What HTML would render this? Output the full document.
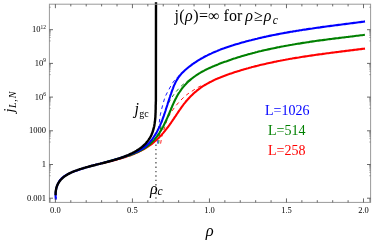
<!DOCTYPE html>
<html><head><meta charset="utf-8"><title>plot</title>
<style>
html,body{margin:0;padding:0;background:#fff;}
svg{display:block;will-change:transform;opacity:0.999;font-family:"Liberation Serif",serif;}
</style></head><body>
<svg width="374" height="241" viewBox="0 0 374 241">
<rect width="374" height="241" fill="#fff"/>
<g fill="none" stroke-linecap="butt" stroke-linejoin="round">
<path d="M157.70 143.60 C157.80 141.67 157.98 135.93 158.30 132.00 C158.62 128.07 159.18 123.23 159.60 120.00 C160.02 116.77 160.23 115.27 160.80 112.60 C161.37 109.93 162.27 106.63 163.00 104.00 C163.73 101.37 164.25 99.15 165.20 96.80 C166.15 94.45 167.40 92.30 168.70 89.90 C170.00 87.50 171.53 84.52 173.00 82.40 C174.47 80.28 175.83 78.93 177.50 77.20 C179.17 75.47 182.08 72.87 183.00 72.00" stroke="#00f" stroke-width="0.9" stroke-dasharray="3.6 3.4"/>
<path d="M158.70 143.60 C158.83 142.17 159.12 137.93 159.50 135.00 C159.88 132.07 160.30 129.25 161.00 126.00 C161.70 122.75 162.70 118.80 163.70 115.50 C164.70 112.20 165.95 108.70 167.00 106.20 C168.05 103.70 169.15 102.03 170.00 100.50 C170.85 98.97 171.18 98.35 172.10 97.00 C173.02 95.65 174.00 94.20 175.50 92.40 C177.00 90.60 179.13 88.07 181.10 86.20 C183.07 84.33 185.32 82.65 187.30 81.20 C189.28 79.75 192.05 78.12 193.00 77.50" stroke="#008000" stroke-width="0.9" stroke-dasharray="3.6 3.4"/>
<path d="M160.60 143.60 C160.83 142.33 161.52 138.10 162.00 136.00 C162.48 133.90 162.92 132.85 163.50 131.00 C164.08 129.15 164.85 126.95 165.50 124.90 C166.15 122.85 166.45 120.80 167.40 118.70 C168.35 116.60 169.83 114.40 171.20 112.30 C172.57 110.20 173.97 108.15 175.60 106.10 C177.23 104.05 179.20 101.85 181.00 100.00 C182.80 98.15 184.63 96.43 186.40 95.00 C188.17 93.57 189.62 92.70 191.60 91.40 C193.58 90.10 196.23 88.33 198.30 87.20 C200.37 86.07 203.05 85.03 204.00 84.60" stroke="#f00" stroke-width="0.9" stroke-dasharray="3.6 3.4"/>
<path d="M102.4 163.3 L103.7 162.9 L105.0 162.6 L106.3 162.3 L107.6 161.9 L108.9 161.6 L110.2 161.3 L111.6 160.9 L112.9 160.6 L114.2 160.2 L115.5 159.9 L116.8 159.5 L118.2 159.1 L119.5 158.7 L120.8 158.4 L122.1 158.0 L123.5 157.6 L124.8 157.2 L126.1 156.7 L127.4 156.3 L128.7 155.8 L130.0 155.4 L131.3 154.9 L132.5 154.4 L133.8 153.9 L135.1 153.4 L136.3 152.9 L137.6 152.3 L138.8 151.7 L140.0 151.1 L141.2 150.5 L142.4 149.9 L143.6 149.3 L144.8 148.6 L145.9 147.9 L147.1 147.2 L148.2 146.4 L149.3 145.7 L150.4 144.9 L151.5 144.1 L152.6 143.3 L153.6 142.4 L154.6 141.5 L155.7 140.7 L156.7 139.7 L157.7 138.8 L158.6 137.9 L159.6 136.9 L160.5 135.9 L161.5 134.9 L162.4 133.9 L163.3 132.9 L164.1 131.9 L165.0 130.8 L165.9 129.7 L166.7 128.7 L167.5 127.6 L168.4 126.5 L169.2 125.4 L170.0 124.2 L170.8 123.1 L171.5 122.0 L172.3 120.9 L173.1 119.7 L173.9 118.6 L174.6 117.4 L175.4 116.3 L176.2 115.1 L176.9 114.0 L177.7 112.9 L178.5 111.7 L179.2 110.6 L180.0 109.5 L180.8 108.3 L181.6 107.2 L182.4 106.1 L183.2 105.0 L184.0 103.9 L184.9 102.9 L185.7 101.8 L186.6 100.8 L187.5 99.7 L188.4 98.7 L189.3 97.7 L190.2 96.8 L191.2 95.8 L192.1 94.9 L193.1 93.9 L194.1 93.0 L195.1 92.1 L196.2 91.3 L197.2 90.4 L198.3 89.6 L199.3 88.8 L200.4 88.0 L201.5 87.2 L202.6 86.4 L203.8 85.7 L204.9 85.0 L206.1 84.3 L207.3 83.6 L208.5 83.0 L209.6 82.3 L210.9 81.7 L212.1 81.1 L213.3 80.5 L214.5 79.9 L215.8 79.3 L217.0 78.8 L218.3 78.2 L219.6 77.7 L220.8 77.2 L222.1 76.7 L223.4 76.2 L224.7 75.7 L226.0 75.2 L227.3 74.7 L228.6 74.3 L229.9 73.8 L231.2 73.4 L232.5 73.0 L233.8 72.5 L235.1 72.1 L236.4 71.7 L237.7 71.3 L239.0 70.9 L240.3 70.5 L241.6 70.1 L242.9 69.7 L244.2 69.3 L245.6 68.9 L246.9 68.5 L248.2 68.2 L249.5 67.8 L250.8 67.5 L252.1 67.1 L253.4 66.8 L254.7 66.4 L256.1 66.1 L257.4 65.8 L258.7 65.4 L260.0 65.1 L261.3 64.8 L262.7 64.5 L264.0 64.2 L265.3 63.9 L266.6 63.6 L267.9 63.3 L269.3 63.0 L270.6 62.7 L271.9 62.4 L273.3 62.1 L274.6 61.8 L275.9 61.6 L277.3 61.3 L278.6 61.0 L279.9 60.8 L281.3 60.5 L282.6 60.3 L283.9 60.0 L285.3 59.8 L286.6 59.5 L287.9 59.3 L289.3 59.0 L290.6 58.8 L292.0 58.6 L293.3 58.3 L294.7 58.1 L296.0 57.9 L297.4 57.7 L298.7 57.5 L300.1 57.2 L301.4 57.0 L302.8 56.8 L304.1 56.6 L305.5 56.4 L306.8 56.2 L308.2 56.0 L309.5 55.8 L310.9 55.6 L312.2 55.4 L313.6 55.2 L314.9 55.0 L316.3 54.8 L317.6 54.6 L319.0 54.4 L320.3 54.2 L321.7 54.1 L323.0 53.9 L324.4 53.7 L325.8 53.5 L327.1 53.3 L328.5 53.2 L329.8 53.0 L331.2 52.8 L332.5 52.6 L333.9 52.5 L335.2 52.3 L336.6 52.1 L337.9 52.0 L339.3 51.8 L340.7 51.6 L342.0 51.4 L343.4 51.3 L344.7 51.1 L346.1 50.9 L347.4 50.8 L348.8 50.6 L350.1 50.4 L351.5 50.3 L352.8 50.1 L354.2 49.9 L355.5 49.8 L356.9 49.6 L358.2 49.4 L359.6 49.3 L360.9 49.1 L362.3 48.9 L363.6 48.8 L365.0 48.6" stroke="#f00" stroke-width="2.1"/>
<path d="M102.5 163.3 L103.8 162.8 L105.1 162.4 L106.4 162.0 L107.7 161.6 L109.1 161.2 L110.4 160.8 L111.8 160.4 L113.1 160.1 L114.5 159.7 L115.9 159.3 L117.3 158.9 L118.6 158.6 L120.0 158.2 L121.4 157.8 L122.8 157.4 L124.2 157.0 L125.6 156.5 L126.9 156.1 L128.3 155.7 L129.7 155.2 L131.0 154.7 L132.4 154.2 L133.7 153.7 L135.0 153.1 L136.4 152.6 L137.7 152.0 L138.9 151.4 L140.2 150.7 L141.5 150.1 L142.7 149.4 L143.9 148.6 L145.1 147.9 L146.2 147.1 L147.3 146.2 L148.4 145.4 L149.5 144.5 L150.5 143.6 L151.5 142.6 L152.5 141.6 L153.5 140.6 L154.4 139.6 L155.3 138.5 L156.2 137.4 L157.0 136.3 L157.9 135.1 L158.7 134.0 L159.5 132.8 L160.2 131.6 L161.0 130.4 L161.7 129.2 L162.4 127.9 L163.1 126.7 L163.7 125.4 L164.4 124.1 L165.0 122.8 L165.6 121.5 L166.2 120.2 L166.8 118.9 L167.4 117.6 L168.0 116.3 L168.5 115.0 L169.1 113.6 L169.7 112.3 L170.2 111.0 L170.8 109.7 L171.3 108.3 L171.9 107.0 L172.4 105.7 L173.0 104.4 L173.6 103.1 L174.2 101.8 L174.8 100.5 L175.4 99.3 L176.1 98.0 L176.7 96.8 L177.4 95.5 L178.1 94.3 L178.8 93.1 L179.6 92.0 L180.4 90.8 L181.2 89.7 L182.0 88.5 L182.9 87.4 L183.8 86.4 L184.7 85.3 L185.7 84.3 L186.6 83.3 L187.6 82.3 L188.7 81.3 L189.7 80.4 L190.8 79.4 L191.9 78.5 L193.0 77.7 L194.1 76.8 L195.3 76.0 L196.5 75.2 L197.7 74.4 L198.8 73.6 L200.1 72.9 L201.3 72.2 L202.5 71.5 L203.8 70.8 L205.0 70.1 L206.3 69.5 L207.6 68.9 L208.9 68.3 L210.2 67.7 L211.5 67.1 L212.8 66.5 L214.1 66.0 L215.4 65.4 L216.7 64.9 L218.0 64.4 L219.4 63.8 L220.7 63.3 L222.0 62.8 L223.4 62.3 L224.7 61.8 L226.0 61.4 L227.4 60.9 L228.7 60.4 L230.1 59.9 L231.4 59.5 L232.7 59.0 L234.1 58.6 L235.4 58.2 L236.8 57.7 L238.1 57.3 L239.5 56.9 L240.8 56.5 L242.2 56.1 L243.5 55.7 L244.9 55.3 L246.3 54.9 L247.6 54.5 L249.0 54.1 L250.4 53.8 L251.7 53.4 L253.1 53.0 L254.5 52.7 L255.8 52.3 L257.2 52.0 L258.6 51.6 L259.9 51.3 L261.3 51.0 L262.7 50.6 L264.1 50.3 L265.5 50.0 L266.8 49.7 L268.2 49.4 L269.6 49.1 L271.0 48.8 L272.4 48.5 L273.8 48.2 L275.1 47.9 L276.5 47.6 L277.9 47.3 L279.3 47.1 L280.7 46.8 L282.1 46.5 L283.5 46.3 L284.9 46.0 L286.3 45.7 L287.7 45.5 L289.1 45.2 L290.5 45.0 L291.9 44.8 L293.3 44.5 L294.7 44.3 L296.1 44.0 L297.5 43.8 L298.9 43.6 L300.3 43.4 L301.7 43.1 L303.1 42.9 L304.5 42.7 L305.9 42.5 L307.3 42.3 L308.7 42.1 L310.1 41.8 L311.5 41.6 L312.9 41.4 L314.3 41.2 L315.7 41.0 L317.1 40.8 L318.5 40.6 L319.9 40.4 L321.4 40.3 L322.8 40.1 L324.2 39.9 L325.6 39.7 L327.0 39.5 L328.4 39.3 L329.8 39.1 L331.2 39.0 L332.6 38.8 L334.0 38.6 L335.4 38.4 L336.8 38.2 L338.3 38.1 L339.7 37.9 L341.1 37.7 L342.5 37.5 L343.9 37.4 L345.3 37.2 L346.7 37.0 L348.1 36.9 L349.5 36.7 L350.9 36.5 L352.3 36.4 L353.7 36.2 L355.1 36.0 L356.5 35.8 L357.9 35.7 L359.3 35.5 L360.7 35.3 L362.1 35.2 L363.5 35.0 L364.9 34.8" stroke="#008000" stroke-width="2.1"/>
<path d="M55.9 199.6 L55.7 198.0 L55.6 196.4 L55.6 194.8 L55.7 193.2 L55.8 191.6 L56.0 190.0 L56.3 188.4 L56.8 186.8 L57.3 185.3 L57.9 183.9 L58.6 182.5 L59.3 181.2 L60.2 180.0 L61.2 178.9 L62.3 177.9 L63.5 176.9 L64.7 176.0 L66.0 175.2 L67.3 174.5 L68.7 173.7 L70.2 173.1 L71.6 172.4 L73.1 171.8 L74.6 171.3 L76.1 170.7 L77.6 170.2 L79.1 169.7 L80.5 169.2 L82.0 168.7 L83.5 168.2 L85.0 167.8 L86.5 167.3 L88.0 166.9 L89.5 166.5 L91.0 166.0 L92.5 165.6 L94.0 165.2 L95.5 164.8 L97.0 164.4 L98.5 164.0 L100.0 163.7 L101.5 163.3 L103.1 162.9 L104.6 162.5 L106.1 162.1 L107.6 161.7 L109.1 161.3 L110.6 160.9 L112.1 160.4 L113.6 160.0 L115.1 159.6 L116.6 159.1 L118.1 158.7 L119.6 158.2 L121.1 157.7 L122.6 157.2 L124.1 156.7 L125.5 156.2 L127.0 155.7 L128.5 155.1 L130.0 154.5 L131.4 154.0 L132.9 153.4 L134.3 152.8 L135.8 152.1 L137.2 151.5 L138.6 150.8 L140.0 150.1 L141.3 149.3 L142.6 148.5 L143.9 147.6 L145.1 146.6 L146.3 145.6 L147.4 144.6 L148.5 143.5 L149.6 142.4 L150.6 141.2 L151.6 140.0 L152.5 138.8 L153.4 137.5 L154.3 136.2 L155.1 134.9 L155.9 133.6 L156.7 132.3 L157.4 130.9 L158.1 129.5 L158.8 128.1 L159.5 126.7 L160.1 125.3 L160.7 123.8 L161.3 122.4 L161.9 120.9 L162.5 119.4 L163.0 117.9 L163.6 116.5 L164.1 115.0 L164.6 113.5 L165.1 112.0 L165.6 110.5 L166.0 109.0 L166.5 107.5 L167.0 106.0 L167.5 104.5 L167.9 103.0 L168.4 101.5 L168.9 100.0 L169.4 98.5 L169.9 97.1 L170.3 95.6 L170.9 94.1 L171.4 92.7 L171.9 91.2 L172.4 89.8 L173.0 88.3 L173.5 86.9 L174.1 85.4 L174.8 84.0 L175.4 82.6 L176.1 81.2 L176.9 79.9 L177.7 78.6 L178.5 77.3 L179.5 76.0 L180.5 74.8 L181.5 73.6 L182.6 72.5 L183.7 71.4 L184.9 70.3 L186.1 69.3 L187.3 68.3 L188.5 67.3 L189.7 66.3 L191.0 65.4 L192.2 64.4 L193.5 63.5 L194.8 62.7 L196.1 61.8 L197.4 60.9 L198.7 60.1 L200.0 59.3 L201.4 58.5 L202.7 57.8 L204.1 57.0 L205.5 56.3 L206.9 55.6 L208.2 54.9 L209.6 54.2 L211.1 53.6 L212.5 52.9 L213.9 52.3 L215.3 51.7 L216.8 51.1 L218.2 50.5 L219.7 49.9 L221.1 49.3 L222.6 48.8 L224.1 48.3 L225.5 47.7 L227.0 47.2 L228.5 46.7 L230.0 46.2 L231.5 45.7 L233.0 45.3 L234.5 44.8 L236.0 44.3 L237.5 43.9 L239.0 43.5 L240.5 43.0 L242.0 42.6 L243.5 42.2 L245.0 41.8 L246.5 41.3 L248.0 40.9 L249.5 40.5 L251.0 40.2 L252.6 39.8 L254.1 39.4 L255.6 39.0 L257.1 38.7 L258.6 38.3 L260.1 37.9 L261.7 37.6 L263.2 37.2 L264.7 36.9 L266.2 36.6 L267.8 36.2 L269.3 35.9 L270.8 35.6 L272.3 35.3 L273.9 35.0 L275.4 34.7 L276.9 34.4 L278.5 34.1 L280.0 33.8 L281.5 33.5 L283.1 33.2 L284.6 32.9 L286.1 32.7 L287.7 32.4 L289.2 32.1 L290.7 31.8 L292.3 31.6 L293.8 31.3 L295.4 31.1 L296.9 30.8 L298.4 30.6 L300.0 30.3 L301.5 30.1 L303.1 29.8 L304.6 29.6 L306.2 29.4 L307.7 29.1 L309.2 28.9 L310.8 28.7 L312.3 28.5 L313.9 28.2 L315.4 28.0 L317.0 27.8 L318.5 27.6 L320.1 27.4 L321.6 27.1 L323.2 26.9 L324.7 26.7 L326.3 26.5 L327.8 26.3 L329.4 26.1 L330.9 25.9 L332.4 25.7 L334.0 25.5 L335.5 25.3 L337.1 25.1 L338.6 24.9 L340.2 24.7 L341.7 24.5 L343.3 24.3 L344.8 24.1 L346.4 23.9 L347.9 23.7 L349.5 23.5 L351.0 23.3 L352.6 23.1 L354.1 22.9 L355.7 22.7 L357.2 22.5 L358.8 22.3 L360.3 22.1 L361.9 21.9 L363.4 21.7 L365.0 21.4" stroke="#00f" stroke-width="2.1"/>
<path d="M55.6 195.2 L55.6 193.9 L55.6 192.7 L55.7 191.5 L55.9 190.4 L56.1 189.3 L56.3 188.2 L56.6 187.2 L56.9 186.2 L57.3 185.2 L57.7 184.3 L58.2 183.4 L58.7 182.6 L59.2 181.8 L59.8 181.0 L60.4 180.2 L61.1 179.5 L61.7 178.8 L62.4 178.1 L63.2 177.5 L63.9 176.8 L64.7 176.2 L65.6 175.7 L66.4 175.1 L67.3 174.6 L68.1 174.1 L69.0 173.6 L70.0 173.1 L70.9 172.7 L71.9 172.2 L72.8 171.8 L73.8 171.4 L74.8 171.0 L75.8 170.6 L76.8 170.3 L77.8 169.9 L78.8 169.6 L79.8 169.2 L80.9 168.9 L81.9 168.6 L82.9 168.3 L83.9 168.0 L85.0 167.7 L86.0 167.4 L87.0 167.1 L88.0 166.8 L89.1 166.5 L90.1 166.3 L91.1 166.0 L92.1 165.7 L93.2 165.5 L94.2 165.2 L95.2 165.0 L96.2 164.7 L97.3 164.4 L98.3 164.2 L99.3 163.9 L100.3 163.7 L101.3 163.4 L102.4 163.2 L103.4 162.9 L104.4 162.7 L105.4 162.4 L106.4 162.1 L107.4 161.9 L108.4 161.6 L109.4 161.3 L110.4 161.1 L111.4 160.8 L112.5 160.5 L113.5 160.2 L114.5 159.9 L115.4 159.6 L116.4 159.3 L117.4 159.0 L118.4 158.7 L119.4 158.4 L120.4 158.0 L121.4 157.7 L122.4 157.3 L123.3 157.0 L124.3 156.6 L125.3 156.2 L126.2 155.8 L127.2 155.4 L128.2 155.0 L129.1 154.6 L130.1 154.1 L131.0 153.7 L132.0 153.2 L132.9 152.7 L133.9 152.3 L134.8 151.7 L135.7 151.2 L136.6 150.7 L137.5 150.1 L138.4 149.6 L139.3 149.0 L140.1 148.4 L141.0 147.7 L141.8 147.1 L142.6 146.4 L143.4 145.8 L144.1 145.0 L144.9 144.3 L145.6 143.6 L146.3 142.8 L146.9 142.0 L147.6 141.2 L148.2 140.4 L148.8 139.6 L149.3 138.7 L149.9 137.9 L150.4 137.0 L150.9 136.1 L151.3 135.2 L151.7 134.2 L152.1 133.3 L152.5 132.3 L152.8 131.4 L153.1 130.4 L153.4 129.4 L153.7 128.4 L153.9 127.3 L154.2 126.3 L154.4 125.3 L154.5 124.2 L154.7 123.2 L154.8 122.1 L155.0 121.1 L155.1 120.0 L155.2 118.9 L155.3 117.8 L155.4 116.8 L155.4 115.7 L155.5 114.6 L155.5 113.6 L155.6 112.5 L155.6 111.4 L155.6 110.3 L155.7 109.3 L155.7 108.2 L155.7 107.2 L155.7 106.1 L155.7 105.1 L155.8 104.1 L155.8 103.1 L155.8 102.1 L155.9 101.1 L155.9 100.1 L156.0 2.3" stroke="#000" stroke-width="2.4"/>
</g>
<line x1="155.95" y1="203.1" x2="155.95" y2="144.4" stroke="#333" stroke-width="1.1" stroke-dasharray="1.4 3"/>
<rect x="49.4" y="4.2" width="321.20000000000005" height="198.20000000000002" fill="none" stroke="#9a9a9a" stroke-width="1"/>
<g stroke="#444" stroke-width="0.8"><line x1="55.40" y1="202.40" x2="55.40" y2="198.40"/><line x1="55.40" y1="4.20" x2="55.40" y2="8.20"/><line x1="70.81" y1="202.40" x2="70.81" y2="200.20"/><line x1="70.81" y1="4.20" x2="70.81" y2="6.40"/><line x1="86.21" y1="202.40" x2="86.21" y2="200.20"/><line x1="86.21" y1="4.20" x2="86.21" y2="6.40"/><line x1="101.62" y1="202.40" x2="101.62" y2="200.20"/><line x1="101.62" y1="4.20" x2="101.62" y2="6.40"/><line x1="117.02" y1="202.40" x2="117.02" y2="200.20"/><line x1="117.02" y1="4.20" x2="117.02" y2="6.40"/><line x1="132.43" y1="202.40" x2="132.43" y2="198.40"/><line x1="132.43" y1="4.20" x2="132.43" y2="8.20"/><line x1="147.83" y1="202.40" x2="147.83" y2="200.20"/><line x1="147.83" y1="4.20" x2="147.83" y2="6.40"/><line x1="163.24" y1="202.40" x2="163.24" y2="200.20"/><line x1="163.24" y1="4.20" x2="163.24" y2="6.40"/><line x1="178.64" y1="202.40" x2="178.64" y2="200.20"/><line x1="178.64" y1="4.20" x2="178.64" y2="6.40"/><line x1="194.05" y1="202.40" x2="194.05" y2="200.20"/><line x1="194.05" y1="4.20" x2="194.05" y2="6.40"/><line x1="209.45" y1="202.40" x2="209.45" y2="198.40"/><line x1="209.45" y1="4.20" x2="209.45" y2="8.20"/><line x1="224.86" y1="202.40" x2="224.86" y2="200.20"/><line x1="224.86" y1="4.20" x2="224.86" y2="6.40"/><line x1="240.26" y1="202.40" x2="240.26" y2="200.20"/><line x1="240.26" y1="4.20" x2="240.26" y2="6.40"/><line x1="255.67" y1="202.40" x2="255.67" y2="200.20"/><line x1="255.67" y1="4.20" x2="255.67" y2="6.40"/><line x1="271.07" y1="202.40" x2="271.07" y2="200.20"/><line x1="271.07" y1="4.20" x2="271.07" y2="6.40"/><line x1="286.47" y1="202.40" x2="286.47" y2="198.40"/><line x1="286.47" y1="4.20" x2="286.47" y2="8.20"/><line x1="301.88" y1="202.40" x2="301.88" y2="200.20"/><line x1="301.88" y1="4.20" x2="301.88" y2="6.40"/><line x1="317.29" y1="202.40" x2="317.29" y2="200.20"/><line x1="317.29" y1="4.20" x2="317.29" y2="6.40"/><line x1="332.69" y1="202.40" x2="332.69" y2="200.20"/><line x1="332.69" y1="4.20" x2="332.69" y2="6.40"/><line x1="348.10" y1="202.40" x2="348.10" y2="200.20"/><line x1="348.10" y1="4.20" x2="348.10" y2="6.40"/><line x1="363.50" y1="202.40" x2="363.50" y2="198.40"/><line x1="363.50" y1="4.20" x2="363.50" y2="8.20"/><line x1="49.40" y1="198.20" x2="53.00" y2="198.20"/><line x1="370.60" y1="198.20" x2="367.00" y2="198.20"/><line x1="49.40" y1="164.50" x2="53.00" y2="164.50"/><line x1="370.60" y1="164.50" x2="367.00" y2="164.50"/><line x1="49.40" y1="130.80" x2="53.00" y2="130.80"/><line x1="370.60" y1="130.80" x2="367.00" y2="130.80"/><line x1="49.40" y1="97.10" x2="53.00" y2="97.10"/><line x1="370.60" y1="97.10" x2="367.00" y2="97.10"/><line x1="49.40" y1="63.40" x2="53.00" y2="63.40"/><line x1="370.60" y1="63.40" x2="367.00" y2="63.40"/><line x1="49.40" y1="29.70" x2="53.00" y2="29.70"/><line x1="370.60" y1="29.70" x2="367.00" y2="29.70"/></g>
<g stroke="#555" stroke-width="0.45"><line x1="49.40" y1="201.58" x2="50.80" y2="201.58"/><line x1="370.60" y1="201.58" x2="369.20" y2="201.58"/><line x1="49.40" y1="200.69" x2="50.80" y2="200.69"/><line x1="370.60" y1="200.69" x2="369.20" y2="200.69"/><line x1="49.40" y1="199.94" x2="50.80" y2="199.94"/><line x1="370.60" y1="199.94" x2="369.20" y2="199.94"/><line x1="49.40" y1="199.29" x2="50.80" y2="199.29"/><line x1="370.60" y1="199.29" x2="369.20" y2="199.29"/><line x1="49.40" y1="198.71" x2="50.80" y2="198.71"/><line x1="370.60" y1="198.71" x2="369.20" y2="198.71"/><line x1="49.40" y1="175.73" x2="50.80" y2="175.73"/><line x1="370.60" y1="175.73" x2="369.20" y2="175.73"/><line x1="49.40" y1="172.35" x2="50.80" y2="172.35"/><line x1="370.60" y1="172.35" x2="369.20" y2="172.35"/><line x1="49.40" y1="170.37" x2="50.80" y2="170.37"/><line x1="370.60" y1="170.37" x2="369.20" y2="170.37"/><line x1="49.40" y1="168.97" x2="50.80" y2="168.97"/><line x1="370.60" y1="168.97" x2="369.20" y2="168.97"/><line x1="49.40" y1="167.88" x2="50.80" y2="167.88"/><line x1="370.60" y1="167.88" x2="369.20" y2="167.88"/><line x1="49.40" y1="166.99" x2="50.80" y2="166.99"/><line x1="370.60" y1="166.99" x2="369.20" y2="166.99"/><line x1="49.40" y1="166.24" x2="50.80" y2="166.24"/><line x1="370.60" y1="166.24" x2="369.20" y2="166.24"/><line x1="49.40" y1="165.59" x2="50.80" y2="165.59"/><line x1="370.60" y1="165.59" x2="369.20" y2="165.59"/><line x1="49.40" y1="165.01" x2="50.80" y2="165.01"/><line x1="370.60" y1="165.01" x2="369.20" y2="165.01"/><line x1="49.40" y1="142.03" x2="50.80" y2="142.03"/><line x1="370.60" y1="142.03" x2="369.20" y2="142.03"/><line x1="49.40" y1="138.65" x2="50.80" y2="138.65"/><line x1="370.60" y1="138.65" x2="369.20" y2="138.65"/><line x1="49.40" y1="136.67" x2="50.80" y2="136.67"/><line x1="370.60" y1="136.67" x2="369.20" y2="136.67"/><line x1="49.40" y1="135.27" x2="50.80" y2="135.27"/><line x1="370.60" y1="135.27" x2="369.20" y2="135.27"/><line x1="49.40" y1="134.18" x2="50.80" y2="134.18"/><line x1="370.60" y1="134.18" x2="369.20" y2="134.18"/><line x1="49.40" y1="133.29" x2="50.80" y2="133.29"/><line x1="370.60" y1="133.29" x2="369.20" y2="133.29"/><line x1="49.40" y1="132.54" x2="50.80" y2="132.54"/><line x1="370.60" y1="132.54" x2="369.20" y2="132.54"/><line x1="49.40" y1="131.89" x2="50.80" y2="131.89"/><line x1="370.60" y1="131.89" x2="369.20" y2="131.89"/><line x1="49.40" y1="131.31" x2="50.80" y2="131.31"/><line x1="370.60" y1="131.31" x2="369.20" y2="131.31"/><line x1="49.40" y1="108.33" x2="50.80" y2="108.33"/><line x1="370.60" y1="108.33" x2="369.20" y2="108.33"/><line x1="49.40" y1="104.95" x2="50.80" y2="104.95"/><line x1="370.60" y1="104.95" x2="369.20" y2="104.95"/><line x1="49.40" y1="102.97" x2="50.80" y2="102.97"/><line x1="370.60" y1="102.97" x2="369.20" y2="102.97"/><line x1="49.40" y1="101.57" x2="50.80" y2="101.57"/><line x1="370.60" y1="101.57" x2="369.20" y2="101.57"/><line x1="49.40" y1="100.48" x2="50.80" y2="100.48"/><line x1="370.60" y1="100.48" x2="369.20" y2="100.48"/><line x1="49.40" y1="99.59" x2="50.80" y2="99.59"/><line x1="370.60" y1="99.59" x2="369.20" y2="99.59"/><line x1="49.40" y1="98.84" x2="50.80" y2="98.84"/><line x1="370.60" y1="98.84" x2="369.20" y2="98.84"/><line x1="49.40" y1="98.19" x2="50.80" y2="98.19"/><line x1="370.60" y1="98.19" x2="369.20" y2="98.19"/><line x1="49.40" y1="97.61" x2="50.80" y2="97.61"/><line x1="370.60" y1="97.61" x2="369.20" y2="97.61"/><line x1="49.40" y1="74.63" x2="50.80" y2="74.63"/><line x1="370.60" y1="74.63" x2="369.20" y2="74.63"/><line x1="49.40" y1="71.25" x2="50.80" y2="71.25"/><line x1="370.60" y1="71.25" x2="369.20" y2="71.25"/><line x1="49.40" y1="69.27" x2="50.80" y2="69.27"/><line x1="370.60" y1="69.27" x2="369.20" y2="69.27"/><line x1="49.40" y1="67.87" x2="50.80" y2="67.87"/><line x1="370.60" y1="67.87" x2="369.20" y2="67.87"/><line x1="49.40" y1="66.78" x2="50.80" y2="66.78"/><line x1="370.60" y1="66.78" x2="369.20" y2="66.78"/><line x1="49.40" y1="65.89" x2="50.80" y2="65.89"/><line x1="370.60" y1="65.89" x2="369.20" y2="65.89"/><line x1="49.40" y1="65.14" x2="50.80" y2="65.14"/><line x1="370.60" y1="65.14" x2="369.20" y2="65.14"/><line x1="49.40" y1="64.49" x2="50.80" y2="64.49"/><line x1="370.60" y1="64.49" x2="369.20" y2="64.49"/><line x1="49.40" y1="63.91" x2="50.80" y2="63.91"/><line x1="370.60" y1="63.91" x2="369.20" y2="63.91"/><line x1="49.40" y1="40.93" x2="50.80" y2="40.93"/><line x1="370.60" y1="40.93" x2="369.20" y2="40.93"/><line x1="49.40" y1="37.55" x2="50.80" y2="37.55"/><line x1="370.60" y1="37.55" x2="369.20" y2="37.55"/><line x1="49.40" y1="35.57" x2="50.80" y2="35.57"/><line x1="370.60" y1="35.57" x2="369.20" y2="35.57"/><line x1="49.40" y1="34.17" x2="50.80" y2="34.17"/><line x1="370.60" y1="34.17" x2="369.20" y2="34.17"/><line x1="49.40" y1="33.08" x2="50.80" y2="33.08"/><line x1="370.60" y1="33.08" x2="369.20" y2="33.08"/><line x1="49.40" y1="32.19" x2="50.80" y2="32.19"/><line x1="370.60" y1="32.19" x2="369.20" y2="32.19"/><line x1="49.40" y1="31.44" x2="50.80" y2="31.44"/><line x1="370.60" y1="31.44" x2="369.20" y2="31.44"/><line x1="49.40" y1="30.79" x2="50.80" y2="30.79"/><line x1="370.60" y1="30.79" x2="369.20" y2="30.79"/><line x1="49.40" y1="30.21" x2="50.80" y2="30.21"/><line x1="370.60" y1="30.21" x2="369.20" y2="30.21"/><line x1="49.40" y1="7.23" x2="50.80" y2="7.23"/><line x1="370.60" y1="7.23" x2="369.20" y2="7.23"/></g>
<g font-size="8.5" fill="#000"><text x="46" y="200.60" text-anchor="end">0.001</text><text x="46" y="166.90" text-anchor="end">1</text><text x="46" y="133.20" text-anchor="end">1000</text><text x="46" y="99.50" text-anchor="end">10<tspan font-size="5.4" dy="-3.4">6</tspan></text><text x="46" y="65.80" text-anchor="end">10<tspan font-size="5.4" dy="-3.4">9</tspan></text><text x="46" y="32.10" text-anchor="end">10<tspan font-size="5.4" dy="-3.4">12</tspan></text><text x="55.40" y="213" text-anchor="middle">0.0</text><text x="132.43" y="213" text-anchor="middle">0.5</text><text x="209.45" y="213" text-anchor="middle">1.0</text><text x="286.48" y="213" text-anchor="middle">1.5</text><text x="363.50" y="213" text-anchor="middle">2.0</text></g>
<text x="174.5" y="21" font-size="16" fill="#000" letter-spacing="0.4">j(<tspan font-style="italic">ρ</tspan>)=∞</text>
<text x="223.6" y="21" font-size="16" fill="#000">for</text>
<text x="245.2" y="21" font-size="16" fill="#000" letter-spacing="1.1"><tspan font-style="italic">ρ</tspan>≥<tspan font-style="italic">ρ</tspan><tspan font-style="italic" font-size="11.5" dy="2.8">c</tspan></text>
<text x="265" y="115.3" font-size="14" fill="#00f">L=1026</text>
<text x="268" y="135" font-size="14" fill="#008000">L=514</text>
<text x="268" y="154.5" font-size="14" fill="#f00">L=258</text>
<text x="134.4" y="114.1" font-size="16" fill="#000"><tspan font-style="italic">j</tspan><tspan font-size="10" dy="3" dx="0.3">gc</tspan></text>
<text x="149.9" y="193.7" font-size="16" fill="#000" font-style="italic">ρ<tspan font-size="11.5" dy="1.5">c</tspan></text>
<text x="205.8" y="235.5" font-size="16.5" fill="#000" font-style="italic">ρ</text>
<text transform="translate(14.2,112.6) rotate(-90)" font-size="14" fill="#000" font-style="italic">j<tspan font-size="10" dy="1.9" dx="0.6" letter-spacing="0.9">L,N</tspan></text>
</svg>
</body></html>
